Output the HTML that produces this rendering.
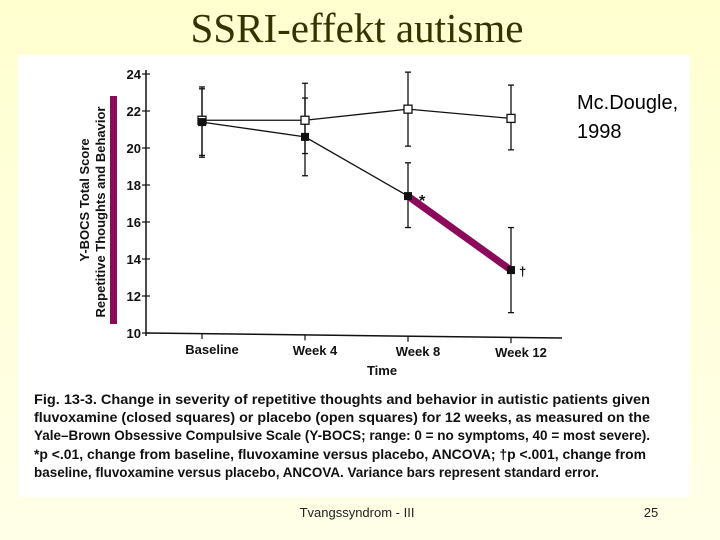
<!DOCTYPE html>
<html><head><meta charset="utf-8"><style>
html,body{margin:0;padding:0}
body{width:720px;height:540px;overflow:hidden;background:linear-gradient(#ffffd0,#ffffe8);font-family:"Liberation Sans",sans-serif}
svg{position:absolute;left:0;top:0}
</style></head><body>
<svg width="720" height="540">
<text x="357" y="42" text-anchor="middle" font-family="Liberation Serif,serif" font-size="41" fill="#333300">SSRI-effekt autisme</text>
<rect x="18" y="55" width="672" height="442" fill="#fff"/>
<g id="chart"></g>
<text x="577" y="109" font-size="20" fill="#000">Mc.Dougle,</text>
<text x="577" y="138" font-size="20" fill="#000">1998</text>
<g font-size="14" font-weight="bold" fill="#111">
<text x="34" y="404" textLength="616" lengthAdjust="spacingAndGlyphs">Fig. 13-3. Change in severity of repetitive thoughts and behavior in autistic patients given</text>
<text x="34" y="422" textLength="616" lengthAdjust="spacingAndGlyphs">fluvoxamine (closed squares) or placebo (open squares) for 12 weeks, as measured on the</text>
<text x="34" y="440" textLength="616" lengthAdjust="spacingAndGlyphs">Yale–Brown Obsessive Compulsive Scale (Y-BOCS; range: 0 = no symptoms, 40 = most severe).</text>
<text x="34" y="459" textLength="612" lengthAdjust="spacingAndGlyphs">*p &lt;.01, change from baseline, fluvoxamine versus placebo, ANCOVA; †p &lt;.001, change from</text>
<text x="34" y="477" textLength="565" lengthAdjust="spacingAndGlyphs">baseline, fluvoxamine versus placebo, ANCOVA. Variance bars represent standard error.</text>
</g>
<text x="357" y="517" text-anchor="middle" font-size="13" fill="#222">Tvangssyndrom - III</text>
<text x="651" y="517" text-anchor="middle" font-size="13" fill="#222">25</text>
</svg>
<script>
const categories=["Baseline","Week 4","Week 8","Week 12"];
const fluvoxamine=[21.4,20.6,17.4,13.4];
const fluvoxLow=[19.5,18.5,15.7,11.1];
const fluvoxHigh=[23.2,22.7,19.2,15.7];
const placebo=[21.5,21.5,22.1,21.6];
const placeboLow=[19.6,19.7,20.1,19.9];
const placeboHigh=[23.3,23.5,24.1,23.4];
const yTicks=[10,12,14,16,18,20,22,24];
const NS="http://www.w3.org/2000/svg";
const g=document.getElementById('chart');
const y=v=>333-(v-10)*(259/14);
const x=i=>202+i*103;
function el(t,a,p){const e=document.createElementNS(NS,t);for(const k in a)e.setAttribute(k,a[k]);(p||g).appendChild(e);return e;}
let e;
e=el('line',{x1:146,y1:70,x2:146,y2:336,stroke:'#111','stroke-width':1.5});


e=el('line',{x1:146,y1:333,x2:562,y2:338,stroke:'#111','stroke-width':1.5});


yTicks.forEach(v=>{
 el('line',{x1:142,y1:y(v),x2:150,y2:y(v),stroke:'#111','stroke-width':1.2});
 e=el('text',{x:141,y:y(v)+5,'text-anchor':'end','font-size':13,'font-weight':'bold',fill:'#111'});
 e.textContent=v;
 
 
});
categories.forEach((c,i)=>{
 el('line',{x1:x(i),y1:333+i*1.4,x2:x(i),y2:339+i*1.4,stroke:'#111','stroke-width':1.2});
 e=el('text',{x:x(i)+10,y:354+i*1,'text-anchor':'middle','font-size':13,'font-weight':'bold',fill:'#111'});
 e.textContent=c;
 
 
});
e=el('text',{x:382,y:375,'text-anchor':'middle','font-size':13,'font-weight':'bold',fill:'#111'});e.textContent='Time';


e=el('text',{transform:'translate(89,200) rotate(-90)','text-anchor':'middle','font-size':13,'font-weight':'bold',fill:'#111'});e.textContent='Y-BOCS Total Score';


e=el('text',{transform:'translate(105,212) rotate(-90)','text-anchor':'middle','font-size':13,'font-weight':'bold',fill:'#111'});e.textContent='Repetitive Thoughts and Behavior';


e=el('rect',{x:110,y:96,width:7,height:228,fill:'#8b0a5a'});


// error bars
function ebar(i,lo,hi,nm){const xx=x(i);
 e=el('g',{stroke:'#111','stroke-width':1.3});
 
 
 el('line',{x1:xx,y1:y(lo),x2:xx,y2:y(hi)},e);
 el('line',{x1:xx-3,y1:y(lo),x2:xx+3,y2:y(lo)},e);
 el('line',{x1:xx-3,y1:y(hi),x2:xx+3,y2:y(hi)},e);}
categories.forEach((c,i)=>{ebar(i,placeboLow[i],placeboHigh[i],'placebo-error-bar');ebar(i,fluvoxLow[i],fluvoxHigh[i],'fluvoxamine-error-bar');});
e=el('polyline',{points:placebo.map((v,i)=>x(i)+','+y(v)).join(' '),fill:'none',stroke:'#111','stroke-width':1.3});


e=el('polyline',{points:fluvoxamine.map((v,i)=>x(i)+','+y(v)).join(' '),fill:'none',stroke:'#111','stroke-width':1.3});


e=el('line',{x1:x(2),y1:y(fluvoxamine[2]),x2:x(3),y2:y(fluvoxamine[3]),stroke:'#8b0a5a','stroke-width':7});


placebo.forEach((v,i)=>{e=el('rect',{x:x(i)-4,y:y(v)-4,width:8,height:8,fill:'#fff',stroke:'#111','stroke-width':1.3});
 
 });
fluvoxamine.forEach((v,i)=>{e=el('rect',{x:x(i)-4,y:y(v)-4,width:8,height:8,fill:'#111'});
 
 });
e=el('text',{x:x(2)+11,y:y(fluvoxamine[2])+10,'font-size':16,'font-weight':'bold',fill:'#111'});e.textContent='*';


e=el('text',{x:x(3)+8,y:y(fluvoxamine[3])+6,'font-size':13,'font-weight':'bold',fill:'#111'});e.textContent='†';


</script>
</body></html>
